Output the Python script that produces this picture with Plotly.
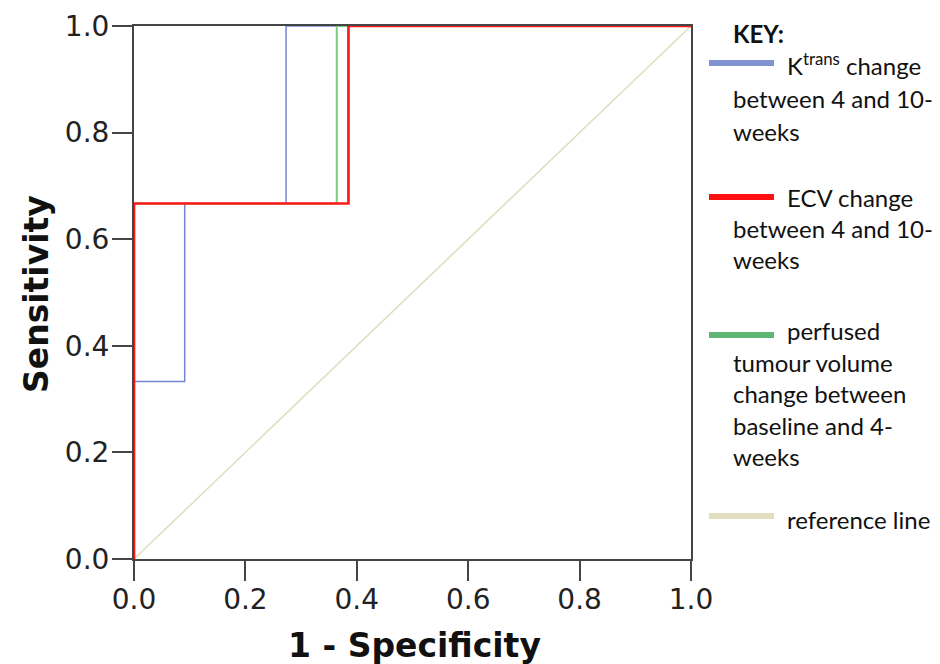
import plotly.graph_objects as go

# ROC data (1 - specificity, sensitivity)
ktrans_fpr = [0, 0, 0.091, 0.091, 0.273, 0.273, 1]
ktrans_tpr = [0, 0.333, 0.333, 0.667, 0.667, 1, 1]
ecv_fpr = [0, 0, 0.385, 0.385, 1]
ecv_tpr = [0, 0.667, 0.667, 1, 1]
ptv_fpr = [0, 0, 0.364, 0.364, 1]
ptv_tpr = [0, 0.667, 0.667, 1, 1]
ref_fpr = [0, 1]
ref_tpr = [0, 1]
tick_vals = [0.0, 0.2, 0.4, 0.6, 0.8, 1.0]
tick_text = ["0.0", "0.2", "0.4", "0.6", "0.8", "1.0"]

C_BLUE = "#7386d2"
C_RED = "#ff1a1a"
C_GREEN = "#78cc86"
C_REF = "#e2dec0"

# page body has an 8px margin, so the figure is offset by 8px
OFF = 8
W, H = 940 - OFF, 664 - OFF
PLOT_X0, PLOT_X1, PLOT_Y0, PLOT_Y1 = 134, 691, 26, 559  # in window pixels
L, T = PLOT_X0 - OFF, PLOT_Y0 - OFF
R, B = (940 - PLOT_X1), (664 - PLOT_Y1)
PW, PH = PLOT_X1 - PLOT_X0, PLOT_Y1 - PLOT_Y0


def px_x(p):
    return (p - PLOT_X0) / PW


def px_y(p):
    return (PLOT_Y1 - p) / PH


fig = go.Figure()
fig.add_trace(go.Scatter(x=ref_fpr, y=ref_tpr, mode="lines",
                         line=dict(color=C_REF, width=1.6), showlegend=False))
fig.add_trace(go.Scatter(x=ktrans_fpr, y=ktrans_tpr, mode="lines",
                         line=dict(color=C_BLUE, width=1.5), showlegend=False))
fig.add_trace(go.Scatter(x=ptv_fpr, y=ptv_tpr, mode="lines",
                         line=dict(color=C_GREEN, width=2), showlegend=False))
fig.add_trace(go.Scatter(x=ecv_fpr, y=ecv_tpr, mode="lines",
                         line=dict(color=C_RED, width=2.7), showlegend=False))

axis_common = dict(
    range=[0, 1], tickvals=tick_vals, ticktext=tick_text,
    showgrid=False, zeroline=False, automargin=False,
    showline=True, linecolor="#454545", linewidth=2, mirror=True,
    ticks="outside", ticklen=20, tickwidth=2, tickcolor="#454545",
    tickfont=dict(family="DejaVu Sans", size=28, color="#222"),
)

fig.update_xaxes(**axis_common, ticklabelstandoff=-6)
fig.update_yaxes(**axis_common, ticklabelstandoff=-3)

shapes = []
annotations = []

TITLE_FONT = dict(family="DejaVu Sans", size=33, color="#111", weight="bold")
annotations.append(dict(xref="paper", yref="paper", x=px_x(414), y=px_y(645),
                        text="1 - Specificity", showarrow=False,
                        xanchor="center", yanchor="middle", font=TITLE_FONT))
annotations.append(dict(xref="paper", yref="paper", x=px_x(36), y=px_y(294),
                        text="Sensitivity", showarrow=False, textangle=-90,
                        xanchor="center", yanchor="middle", font=TITLE_FONT))

# Legend (key) drawn manually
LEG_FONT = dict(family="Lato", size=24, color="#111")


def sample(py, color):
    shapes.append(dict(type="line", xref="paper", yref="paper",
                       x0=px_x(709), x1=px_x(774), y0=px_y(py), y1=px_y(py),
                       line=dict(color=color, width=6)))


def txt(px, py, text, bold=False):
    f = dict(LEG_FONT)
    if bold:
        f["weight"] = "bold"
    annotations.append(dict(xref="paper", yref="paper", x=px_x(px), y=px_y(py),
                            text=text, showarrow=False, xanchor="left",
                            yanchor="middle", font=f))


LX1, LX2 = 731, 785
txt(LX1, 33, "KEY:", bold=True)
sample(63, "#8193d2")
txt(LX2, 64, "K<sup>trans</sup> change")
txt(LX1, 99, "between 4 and 10-")
txt(LX1, 131, "weeks")
sample(197, "#ff1010")
txt(LX2, 197, "ECV change")
txt(LX1, 228, "between 4 and 10-")
txt(LX1, 260, "weeks")
sample(335, "#5fb574")
txt(LX2, 330, "perfused")
txt(LX1, 362, "tumour volume")
txt(LX1, 393, "change between")
txt(LX1, 425, "baseline and 4-")
txt(LX1, 457, "weeks")
sample(516, "#e2dec0")
txt(LX2, 519, "reference line")

fig.update_layout(
    width=W, height=H,
    margin=dict(l=L, r=R, t=T, b=B, pad=0),
    paper_bgcolor="white", plot_bgcolor="white",
    shapes=shapes, annotations=annotations,
    showlegend=False,
)

fig.write_html("out.html")
